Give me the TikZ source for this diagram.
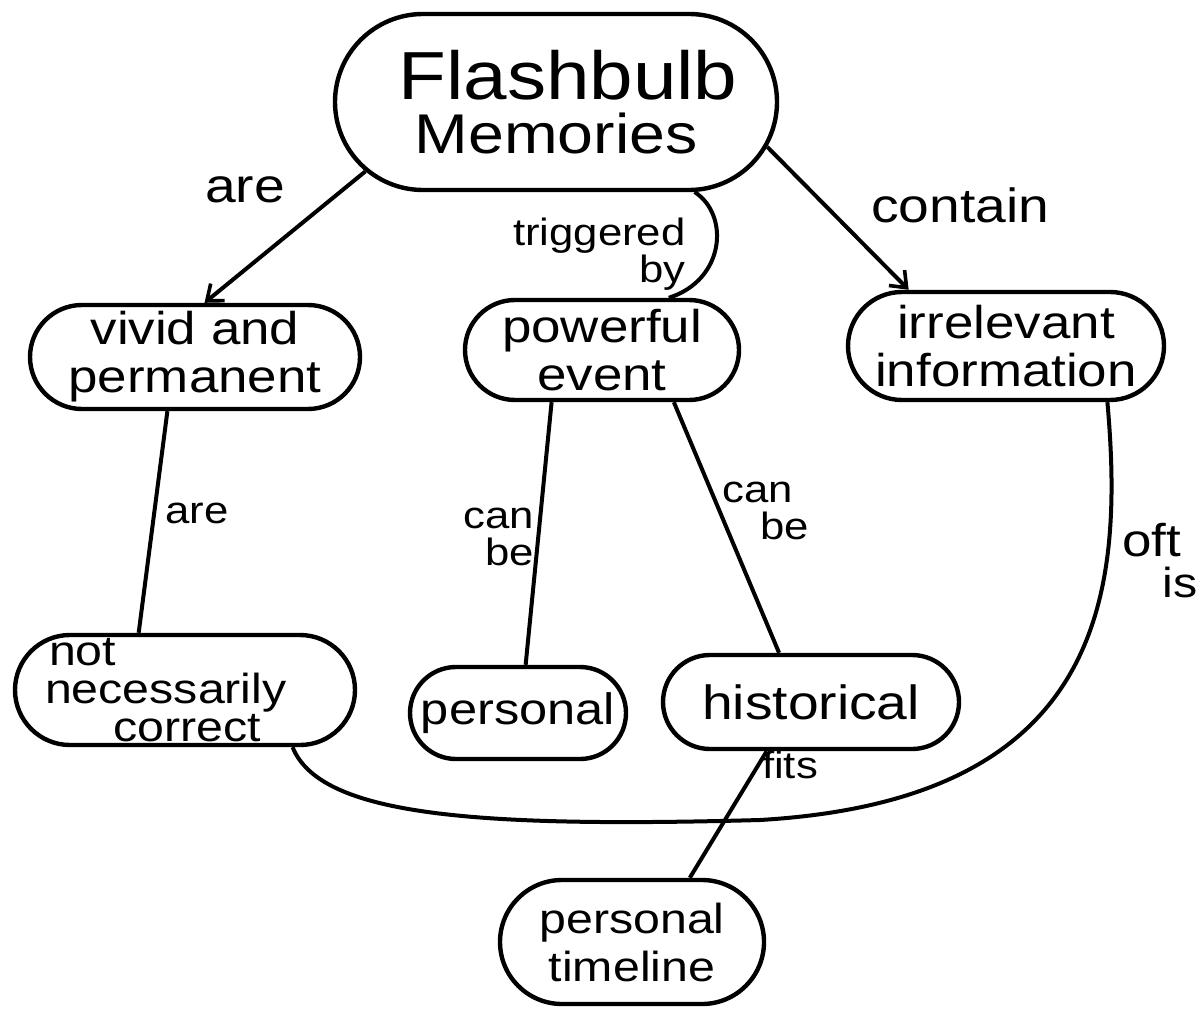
\documentclass[tikz,border=0pt]{standalone}
\usepackage{fontspec}
\setmainfont{Liberation Sans}[FakeStretch=1.15]
\usetikzlibrary{shapes.misc,arrows.meta}
% a line of text that takes no width, so the outline keeps its set size
\newcommand\ctr[1]{\makebox[0pt]{#1}}
\newcommand\lft[2]{\makebox[0pt][l]{\hspace*{#1}#2}}
\begin{document}
\begin{tikzpicture}[x=0.5pt,y=-0.5pt,
  blob/.style={draw, rounded rectangle, line width=2.2pt, inner xsep=0pt,
    inner ysep=0pt, align=center, font=\fontsize{23}{24}\selectfont},
  link/.style={line width=2pt},
  arr/.style={link, -{Straight Barb[length=7pt,width=11pt,line width=1.8pt]}},
  lbl/.style={inner sep=0pt, font=\fontsize{24}{26}\selectfont},
  slbl/.style={inner sep=0pt, font=\fontsize{19}{16}\selectfont},
  pair/.style={slbl, font=\fontsize{19}{18.5}\selectfont},
]
\useasboundingbox (0,0) rectangle (1197,1015);
\fill[white] (0,0) rectangle (1197,1015);

% concept nodes
\node[blob, minimum width=221pt, minimum height=88pt, font=\fontsize{28}{27}\selectfont]
  (fm) at (556,102) {\ctr{\hspace*{12pt}\fontsize{34}{27}\selectfont Flashbulb}\\\ctr{Memories}};
\node[blob, minimum width=165pt, minimum height=52pt] (viv) at (195,357)
  {\ctr{vivid and}\\\ctr{permanent}};
\node[blob, minimum width=137pt, minimum height=50pt] (pw) at (602,350)
  {\ctr{powerful}\\\ctr{event}};
\node[blob, minimum width=158pt, minimum height=54pt] (irr) at (1006,346)
  {\ctr{irrelevant}\\\ctr{information}};
\node[blob, minimum width=170pt, minimum height=55pt, inner ysep=-4pt,
  font=\fontsize{21}{19}\selectfont] (nnc) at (185,690)
  {\lft{-68pt}{not}\\\lft{-70pt}{necessarily}\\\lft{-36pt}{correct}};
\node[blob, minimum width=108pt, minimum height=46pt, font=\fontsize{22}{24}\selectfont]
  (per) at (518,713) {\ctr{personal}};
\node[blob, minimum width=148pt, minimum height=47pt, font=\fontsize{24}{26}\selectfont]
  (his) at (811,702) {\ctr{historical}};
\node[blob, minimum width=132pt, minimum height=62pt, font=\fontsize{21}{24}\selectfont]
  (ptl) at (632,942) {\ctr{personal}\\\ctr{timeline}};

% links
\draw[arr] (fm.200) -- (viv.80);
\draw[arr] (fm.-12) -- (irr.150);
\draw[link] (fm.-33) .. controls (730,215) and (725,280) .. (pw.38);
\draw[link] (viv.243) -- (nnc.129);
\draw[link] (pw.226) -- (per.81);
\draw[link] (pw.-36) -- (his.123);
\draw[link] (his.228) -- (ptl.48);
\coordinate (low) at (760,820);
\draw[link] (irr.-29) .. controls (1125,600) and (1100,800) .. (low)
  .. controls (470,828) and (320,815) .. (nnc.-28);

% link labels
\node[lbl] (l1) at (245,190) {are};
\node[lbl] (l2) at (960,205) {contain};
\node[slbl, align=right, anchor=east] (l3) at (686,254) {triggered\\by};
\node[slbl] (l4) at (197,513) {are};
\node[pair, align=right, anchor=east] (l5) at (534,537) {can\\be};
\node[pair, align=left, anchor=west] (l6) at (722,511) {can\\\hspace*{19pt}be};
\node[slbl] (l7) at (790,765) {fits};
\node[lbl, anchor=west, font=\fontsize{23}{24}\selectfont] (l8) at (1122,540) {oft};
\node[lbl, anchor=west, font=\fontsize{21}{24}\selectfont] (l9) at (1162,582) {is};
\end{tikzpicture}
\end{document}
